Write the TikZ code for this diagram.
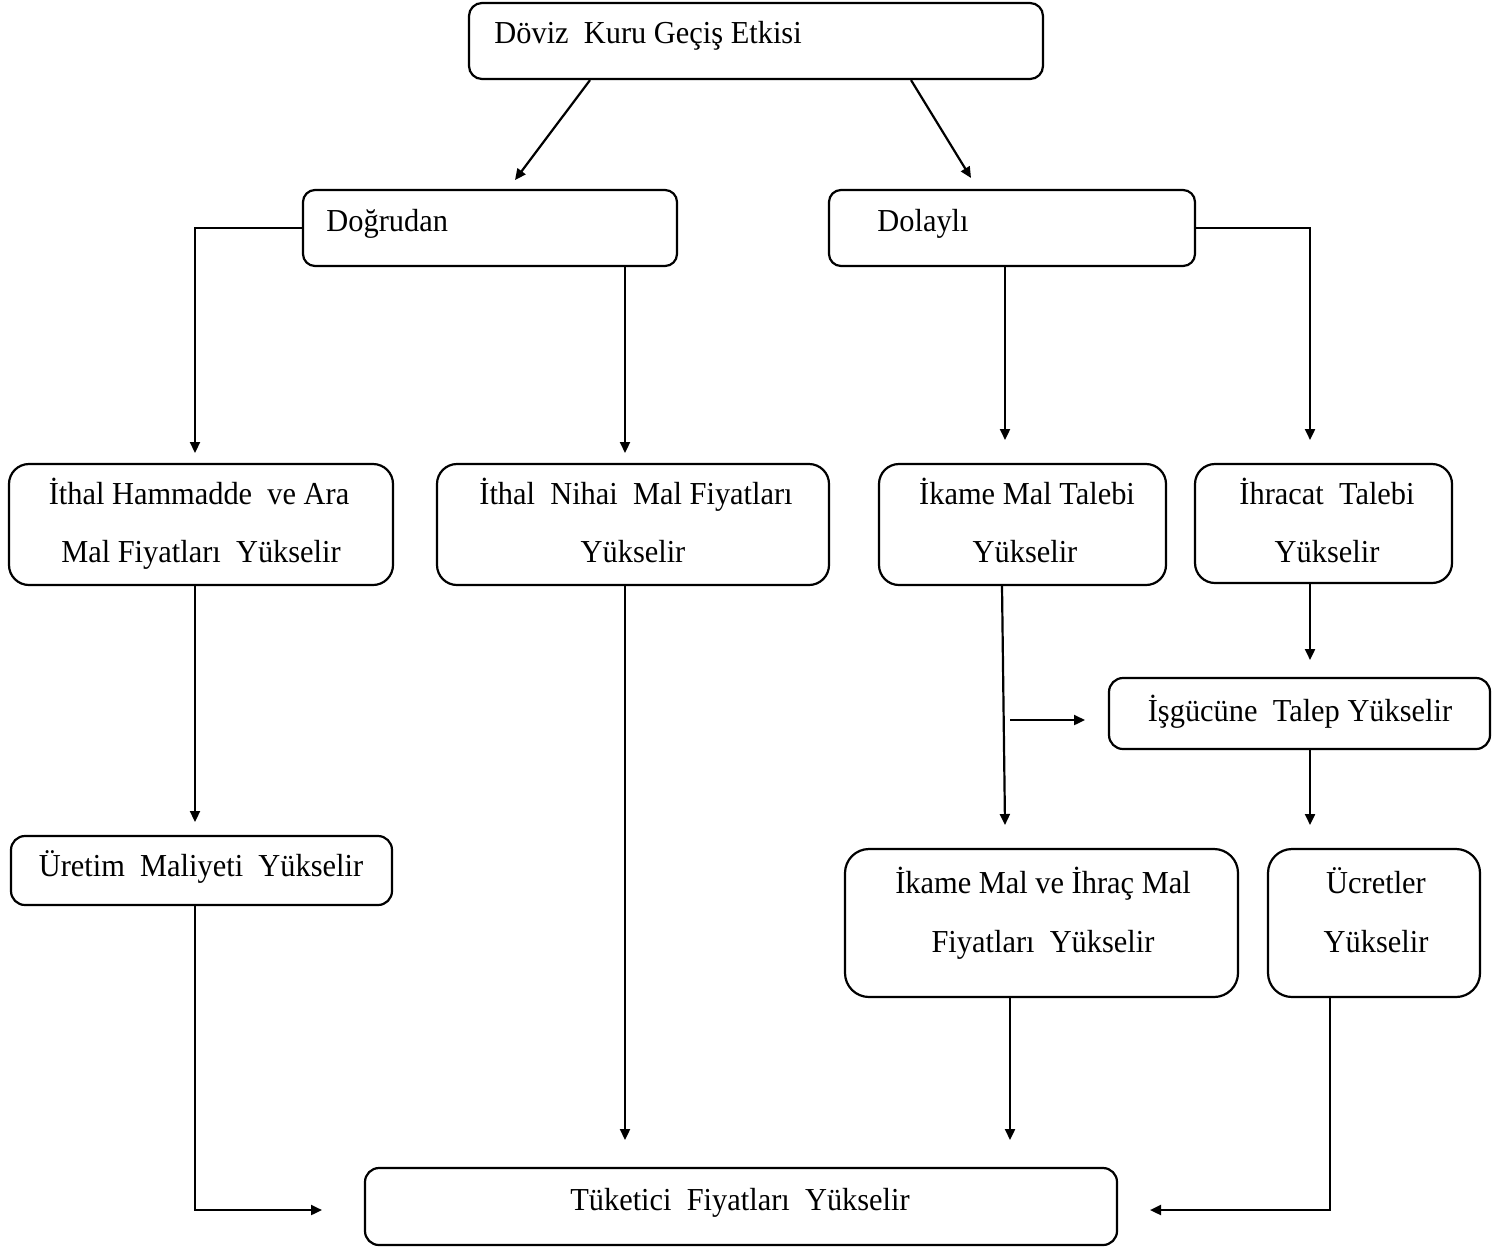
\documentclass[tikz,border=0pt]{standalone}
\usepackage{fontspec}
\setmainfont[FakeStretch=0.95]{Liberation Serif}
\usetikzlibrary{arrows.meta}
\begin{document}
\begin{tikzpicture}[x=0.5pt,y=-0.5pt,
  box/.style={draw, line width=1.1pt, rounded corners=#1, inner sep=0pt},
  box/.default=7pt,
  txt/.style={inner sep=0pt, font=\fontsize{16pt}{19pt}\selectfont},
  arr/.style={line width=1.1pt, -{Triangle[length=5.5pt,width=5pt]}}]
\useasboundingbox (0,0) rectangle (1507,1248);

% boxes
\node[box=6.5pt, minimum width=287pt, minimum height=38pt] (top) at (756,41) {};
\node[box=6pt, minimum width=187pt, minimum height=38pt] (dog) at (490,228) {};
\node[box=6pt, minimum width=183pt, minimum height=38pt] (dol) at (1012,228) {};
\node[box=10pt, minimum width=192pt, minimum height=60.5pt] (ith) at (201,524.5) {};
\node[box=10pt, minimum width=196pt, minimum height=60.5pt] (nih) at (633,524.5) {};
\node[box=10pt, minimum width=143.5pt, minimum height=60.5pt] (ika) at (1022.5,524.5) {};
\node[box=10pt, minimum width=128.5pt, minimum height=59.5pt] (ihr) at (1323.5,523.5) {};
\node[box=7pt, minimum width=190.5pt, minimum height=35.5pt] (isg) at (1299.5,713.5) {};
\node[box=7pt, minimum width=190.5pt, minimum height=34.5pt] (ure) at (201.5,870.5) {};
\node[box=12pt, minimum width=196.5pt, minimum height=74pt] (ikm) at (1041.5,923) {};
\node[box=12pt, minimum width=106pt, minimum height=74pt] (ucr) at (1374,923) {};
\node[box=7pt, minimum width=376pt, minimum height=38.5pt] (tuk) at (741,1206.5) {};

% texts
\node[txt, anchor=base west] (ttop) at (494,43) {Döviz~~Kuru Geçiş Etkisi};
\node[txt, anchor=base west] (tdog) at (326,231) {Doğrudan};
\node[txt, anchor=base west] (tdol) at (877,231) {Dolaylı};
\node[txt, anchor=base] (tith1) at (199,504) {İthal Hammadde~~ve Ara};
\node[txt, anchor=base] (tith2) at (201,562) {Mal Fiyatları~~Yükselir};
\node[txt, anchor=base] (tnih1) at (636,504) {İthal~~Nihai~~Mal Fiyatları};
\node[txt, anchor=base] (tnih2) at (633,562) {Yükselir};
\node[txt, anchor=base] (tika1) at (1027,504) {İkame Mal Talebi};
\node[txt, anchor=base] (tika2) at (1025,562) {Yükselir};
\node[txt, anchor=base] (tihr1) at (1327,504) {İhracat~~Talebi};
\node[txt, anchor=base] (tihr2) at (1327,562) {Yükselir};
\node[txt, anchor=base] (tisg) at (1300,721) {İşgücüne~~Talep Yükselir};
\node[txt, anchor=base] (ture) at (201,876) {Üretim~~Maliyeti~~Yükselir};
\node[txt, anchor=base] (tikm1) at (1043,893) {İkame Mal ve İhraç Mal};
\node[txt, anchor=base] (tikm2) at (1043,952) {Fiyatları~~Yükselir};
\node[txt, anchor=base] (tucr1) at (1376,893) {Ücretler};
\node[txt, anchor=base] (tucr2) at (1376,952) {Yükselir};
\node[txt, anchor=base] (ttuk) at (740,1210) {Tüketici~~Fiyatları~~Yükselir};

% free arrow ends
\coordinate (c1) at (515,180);
\coordinate (c2) at (971,178);
\coordinate (c3) at (195,453);
\coordinate (c4) at (625,453);
\coordinate (c5) at (1005,440);
\coordinate (c6) at (1310,440);
\coordinate (c7) at (195,822);
\coordinate (c8) at (625,1140);
\coordinate (c9) at (1005,825);
\coordinate (c10s) at (1010,720);
\coordinate (c10e) at (1085,720);
\coordinate (c11) at (1310,660);
\coordinate (c12) at (1310,825);
\coordinate (c13) at (322,1210);
\coordinate (c14) at (1010,1140);
\coordinate (c15) at (1150,1210);

% connectors
\draw[arr] (top.south -| 590,0) -- (c1);
\draw[arr] (top.south -| 911,0) -- (c2);
\draw[arr] (dog.west) -| (c3);
\draw[arr] (dog.south -| 625,0) -- (c4);
\draw[arr] (dol.south -| 1005,0) -- (c5);
\draw[arr] (dol.east) -| (c6);
\draw[arr] (ith.south -| 195,0) -- (c7);
\draw[arr] (nih.south -| 625,0) -- (c8);
\draw[arr] (ika.south -| 1002,0) -- (c9);
\draw[arr] (c10s) -- (c10e);
\draw[arr] (ihr.south -| 1310,0) -- (c11);
\draw[arr] (isg.south -| 1310,0) -- (c12);
\draw[arr] (ure.south -| 195,0) |- (c13);
\draw[arr] (ikm.south -| 1010,0) -- (c14);
\draw[arr] (ucr.south -| 1330,0) |- (c15);
\end{tikzpicture}
\end{document}
